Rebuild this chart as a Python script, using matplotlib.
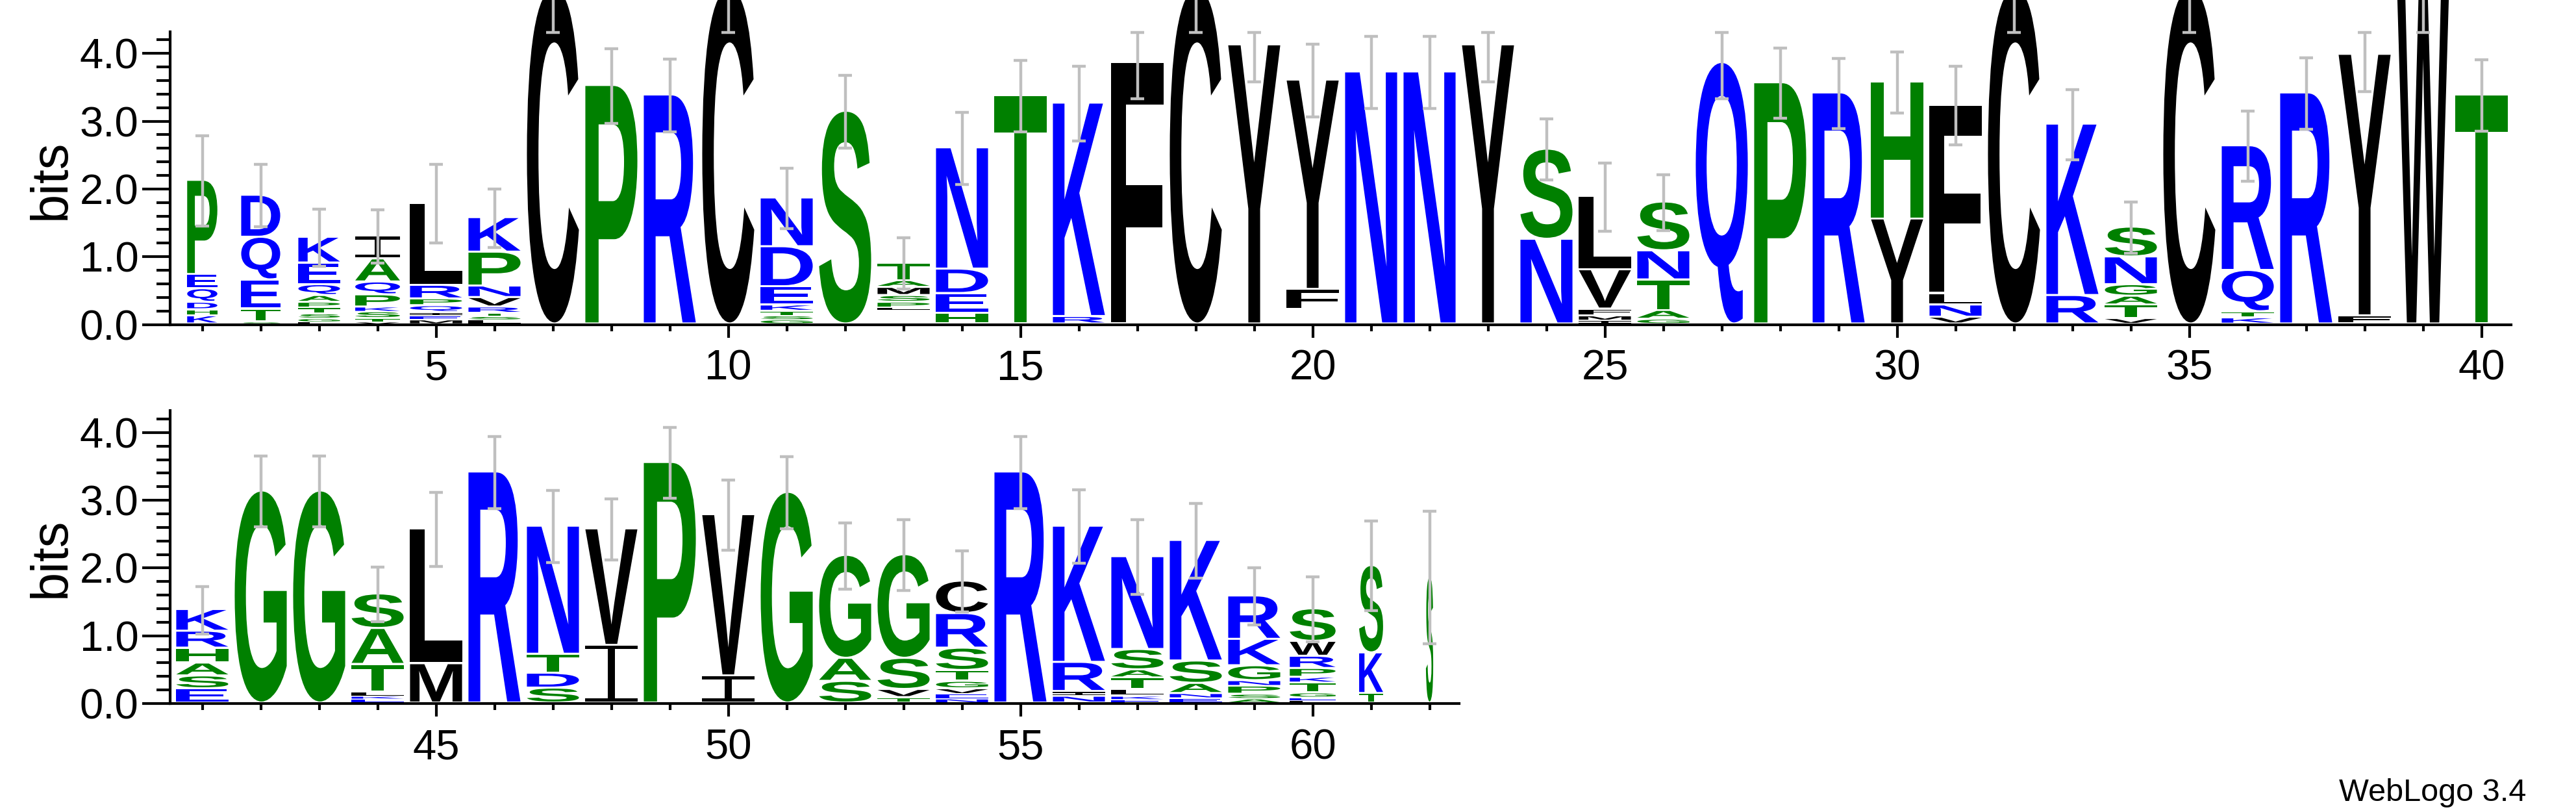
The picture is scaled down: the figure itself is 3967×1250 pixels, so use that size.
import matplotlib
matplotlib.use('Agg')
import matplotlib.pyplot as plt
import matplotlib.transforms as mtransforms
from matplotlib.textpath import TextPath
from matplotlib.patches import PathPatch, Rectangle
from matplotlib.font_manager import FontProperties
from matplotlib.ticker import MultipleLocator, FixedLocator, FormatStrFormatter

plt.rcParams['font.family'] = ['Liberation Sans', 'DejaVu Sans']

# letters of each stack, bottom -> top, with their heights in bits
# (letters under 0.025 bits are too thin to show, as in the original)
letters_row1 = ["KHDQEP", "STEQD", "LGSTPAQEK", "VTSKPQAI", "MEIQPRL", "LSTRVNPK",
                "C", "P", "R", "C", "GSTKEDN", "S", "EKDQNGVHRWLPSMAT", "HEDN", "T", "RK",
                "F", "C", "Y", "EKDQNGVHRWFY", "N", "N", "Y", "NS", "IMFVL", "GATNS", "Q",
                "P", "R", "YH", "VNLF", "C", "RK", "VTAGNS", "C", "KTQR", "R", "FY",
                "W", "T"]
heights_row1 = [[.12, .09, .11, .20, .21, 1.39], [.03, .19, .43, .63, .62],
                [.03, .05, .07, .09, .08, .10, .16, .32, .38],
                [.03, .05, .10, .07, .18, .19, .34, .34],
                [.06, .06, .05, .10, .10, .20, 1.21],
                [.06, .05, .05, .09, .14, .17, .50, .51],
                [4.95], [3.52], [3.38], [4.95],
                [.06, .06, .07, .09, .27, .59, .72], [3.14],
                [.021] * 10 + [.03, .08, .10, .12, .10, .26],
                [.16, .29, .36, 1.79], [3.37], [.11, 3.15], [3.86], [4.95], [4.12],
                [.021] * 10 + [.30, 3.09], [3.72], [3.72], [4.12], [1.25, 1.33],
                [.05, .07, .10, .58, 1.08], [.07, .13, .45, .43, .72], [3.86],
                [3.56], [3.41], [1.55, 2.02], [.10, .18, .17, 2.78], [4.95],
                [.42, 2.53], [.08, .20, .13, .17, .41, .44], [4.95],
                [.09, .09, .61, 1.84], [3.41], [.12, 3.86], [4.95], [3.38]]
err_row1 = [.67, .46, .42, .39, .58, .43, .50, .55, .54, .50, .45, .54, .38, .53,
            .53, .55, .53, .50, .54, .54, .53, .53, .54, .45, .50, .41, .53, .52,
            .52, .45, .58, .50, .52, .38, .50, .52, .53, .54, .50, .53]
occupancy_row1 = [.58, .75, .80, .86] + [1.0] * 36

letters_row2 = ["ESAHRK", "G", "G", "EKLTAS", "ML", "R", "SDTN", "IV", "P", "IV",
                "G", "SAG", "TVSG", "NEVGTSRC", "R", "NIRK", "EKLTASN", "ENASK",
                "ASPNGKR", "LEGTKPRWS", "TKS", "S"]
heights_row2 = [[.21, .19, .19, .22, .25, .32], [3.13], [3.13],
                [.06, .04, .06, .41, .53, .51], [.58, 1.99], [3.41],
                [.22, .22, .28, 1.89], [.85, 1.72], [3.55], [.40, 2.38], [3.11],
                [.32, .34, 1.52], [.08, .12, .46, 1.53],
                [.06, .07, .08, .11, .16, .33, .51, .48], [3.41],
                [.10, .07, .43, 2.01], [.05, .05, .10, .17, .12, .30, 1.37],
                [.07, .07, .15, .33, 1.78], [.06, .07, .12, .08, .22, .39, .64],
                [.04, .04, .07, .15, .08, .13, .18, .22, .48], [.14, .60, 1.29],
                [1.86]]
err_row2 = [.35, .52, .52, .40, .55, .53, .53, .45, .52, .52, .53, .49, .52, .45,
            .53, .54, .55, .55, .42, .48, .66, .98]
occupancy_row2 = [1.0] * 19 + [.88, .46, .14]

# hydrophobicity colour scheme
colors = {}
for c in "RKDENQ":
    colors[c] = '#0000FF'
for c in "SGHTAP":
    colors[c] = '#008000'
for c in "YVMCLFIW":
    colors[c] = '#000000'

glyph_font = FontProperties(family='Liberation Sans', weight='bold')
YMAX = 4.32
FULL_W = 0.89


def draw_letter(ax, ch, x, y0, w, h, color):
    if ch == 'I':
        # weblogo draws I with bars
        bar = min(0.045, h * 0.3)
        ax.add_patch(Rectangle((x - w / 2, y0), w, bar, fc=color, ec='none', clip_on=False))
        ax.add_patch(Rectangle((x - w / 2, y0 + h - bar), w, bar, fc=color, ec='none', clip_on=False))
        ax.add_patch(Rectangle((x - w * 0.07, y0), w * 0.14, h, fc=color, ec='none', clip_on=False))
        return
    path = TextPath((0, 0), ch, size=1, prop=glyph_font)
    ext = path.get_extents()
    tr = (mtransforms.Affine2D().translate(-ext.x0, -ext.y0)
          .scale(w / ext.width, h / ext.height).translate(x - w / 2, y0))
    ax.add_patch(PathPatch(tr.transform_path(path), fc=color, ec='none', lw=0, clip_on=False))


def draw_logo(ax, start, letters, heights, errs, occ):
    for i in range(len(letters)):
        x = start + i
        w = FULL_W * occ[i]
        y = 0.0
        for ch, h in zip(letters[i], heights[i]):
            if h >= 0.025:
                gap = min(0.03, 0.3 * h)
                draw_letter(ax, ch, x, y + gap, w, h - gap, colors[ch])
            y += h
        top = y
        e = errs[i]
        lo = min(top - e, 4.31)
        hi = min(top + e, 4.31) if top <= 4.31 else top + e
        ax.vlines(x, lo, hi, color='#bfbfbf', lw=3.2, clip_on=False, zorder=5)
        ax.hlines([lo, hi], x - 0.115, x + 0.115, color='#bfbfbf', lw=3.2, clip_on=False, zorder=5)


def style_axis(ax, xmin, xmax, majors):
    ax.set_xlim(xmin, xmax)
    ax.set_ylim(0, YMAX)
    for s in ['top', 'right']:
        ax.spines[s].set_visible(False)
    for s in ['left', 'bottom']:
        ax.spines[s].set_linewidth(3)
    ax.xaxis.set_major_locator(FixedLocator(majors))
    ax.xaxis.set_minor_locator(MultipleLocator(1))
    ax.yaxis.set_major_locator(MultipleLocator(1))
    ax.yaxis.set_minor_locator(MultipleLocator(0.2))
    ax.yaxis.set_major_formatter(FormatStrFormatter('%.1f'))
    ax.tick_params(axis='y', which='major', length=31, width=3, labelsize=47, pad=4)
    ax.tick_params(axis='y', which='minor', length=15, width=3)
    ax.tick_params(axis='x', which='major', length=14.5, width=3, labelsize=47, pad=13)
    ax.tick_params(axis='x', which='minor', length=7.5, width=3)


W, H = 3967, 1250
fig = plt.figure(figsize=(W / 100, H / 100), dpi=100)
ax1 = fig.add_axes([262 / W, (H - 499.5) / H, 3604.5 / W, YMAX * 104.3 / H])
ax2 = fig.add_axes([262 / W, (H - 1083) / H, 1984.5 / W, YMAX * 104.3 / H])

draw_logo(ax1, 1, letters_row1, heights_row1, err_row1, occupancy_row1)
draw_logo(ax2, 41, letters_row2, heights_row2, err_row2, occupancy_row2)
style_axis(ax1, 0.45, 40.5, [5, 10, 15, 20, 25, 30, 35, 40])
style_axis(ax2, 40.45, 62.5, [45, 50, 55, 60])

fig.text(79 / W, (H - 276) / H, 'bits', rotation=90, ha='center', va='center', fontsize=57)
fig.text(79 / W, (H - 858) / H, 'bits', rotation=90, ha='center', va='center', fontsize=57)
fig.text(3890 / W, (H - 1233) / H, 'WebLogo 3.4', ha='right', va='baseline', fontsize=35)

fig.savefig('out.png', dpi=100)
